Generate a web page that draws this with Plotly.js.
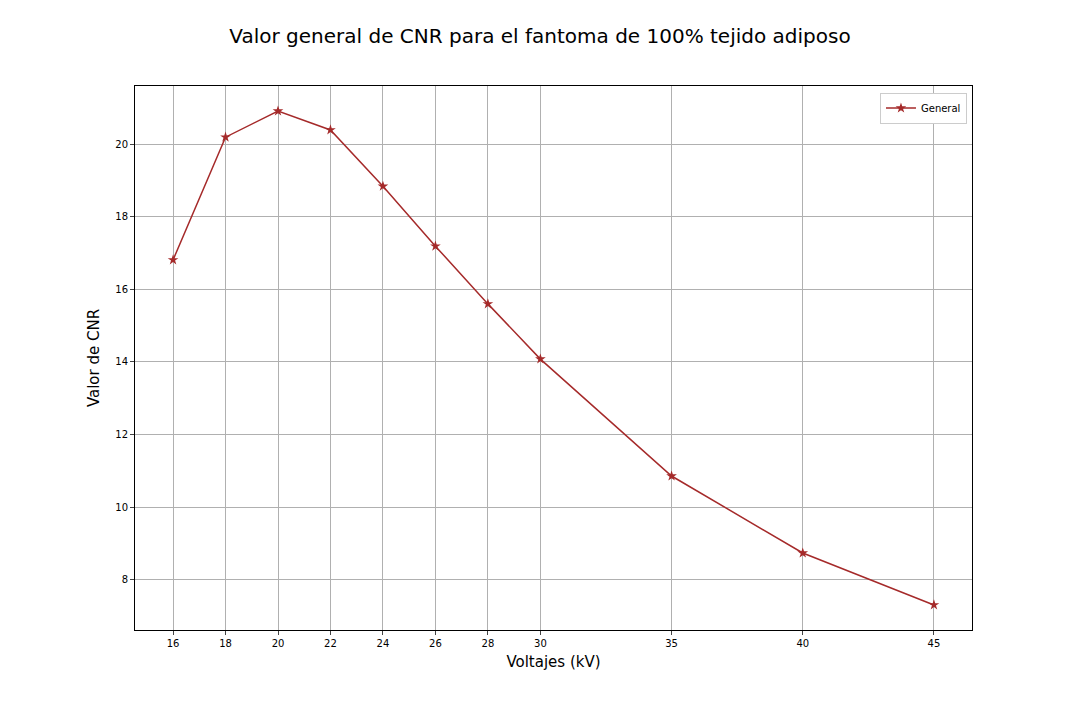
<!DOCTYPE html>
<html>
<head>
<meta charset="utf-8">
<script src="https://cdn.plot.ly/plotly-3.0.1.min.js"></script>
<style>body{margin:0;background:#fff}#chart{width:1080px;height:720px}</style>
</head>
<body>
<div id="chart"></div>
<script>
// voltajes (kV) y valores de CNR
var voltajes = [16, 18, 20, 22, 24, 26, 28, 30, 35, 40, 45];
var cnrGeneral = [16.81, 20.19, 20.91, 20.39, 18.84, 17.19, 15.60, 14.08, 10.86, 8.74, 7.31];

var trace = {
    x: voltajes,
    y: cnrGeneral,
    mode: 'lines+markers',
    name: 'General',
    line: {color: '#a52a2a', width: 1.5},
    marker: {symbol: 'star', size: 8, color: '#a52a2a'}
};

var layout = {
    width: 1080, height: 720,
    margin: {l: 135, r: 108, t: 86, b: 90},
    paper_bgcolor: '#fff', plot_bgcolor: '#fff',
    font: {family: 'DejaVu Sans', color: '#000', size: 10},
    title: {text: 'Valor general de CNR para el fantoma de 100% tejido adiposo',
            font: {size: 20}, x: 0.5, xanchor: 'center',
            yref: 'paper', y: 1.005, yanchor: 'bottom'},
    xaxis: {
        range: [14.55, 46.45], tickvals: voltajes, ticks: 'outside', ticklen: 4,
        showgrid: true, gridcolor: '#b0b0b0', zeroline: false,
        showline: true, linecolor: '#000', mirror: true,
        title: {text: 'Voltajes (kV)', font: {size: 15}, standoff: 8}
    },
    yaxis: {
        range: [6.62, 21.6], tickvals: [8, 10, 12, 14, 16, 18, 20], ticks: 'outside', ticklen: 4,
        showgrid: true, gridcolor: '#b0b0b0', zeroline: false,
        showline: true, linecolor: '#000', mirror: true,
        title: {text: 'Valor de CNR', font: {size: 15}, standoff: 12}
    },
    showlegend: true,
    legend: {x: 0.994, y: 0.988, xanchor: 'right', yanchor: 'top',
             bordercolor: '#ccc', borderwidth: 1, bgcolor: '#fff',
             font: {size: 10}, itemwidth: 30, tracegroupgap: 0}
};

Plotly.newPlot('chart', [trace], layout, {displayModeBar: false});
</script>
</body>
</html>
